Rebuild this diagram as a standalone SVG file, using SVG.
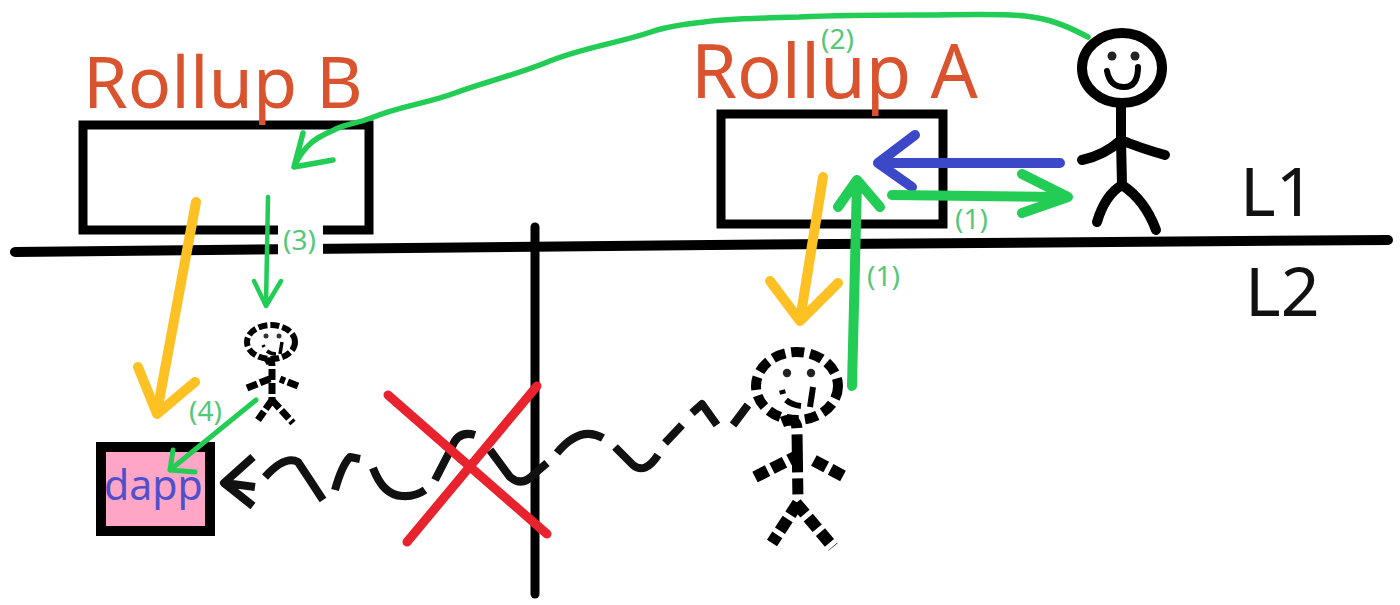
<svg xmlns="http://www.w3.org/2000/svg" width="1400" height="605" viewBox="0 0 1400 605">
<style>
.k{fill:none;stroke:#000;stroke-linecap:round;stroke-linejoin:round}
.g{fill:none;stroke:#22cc55;stroke-linecap:round;stroke-linejoin:round}
.y{fill:none;stroke:#fdc124;stroke-width:10;stroke-linecap:round;stroke-linejoin:round}
.t{font-family:"Noto Sans","Open Sans",sans-serif}
.title{font-size:74px;fill:#d9532f}
.lbl{font-size:28px;fill:#55c878}
.lvl{font-size:68px;fill:#111}
.wave{fill:none;stroke:#111;stroke-width:8;stroke-linecap:butt;stroke-linejoin:round}
</style>
<rect width="1400" height="605" fill="#fff"/>
<g id="lines">
<path class="k" stroke-width="10" d="M15 252L710 245L1388 240"/>
<path class="k" stroke-width="9" d="M535 227L535 594"/>
</g>
<g id="rollup-b">
<rect x="83" y="125" width="286" height="105" fill="none" stroke="#000" stroke-width="9"/>
<rect x="278" y="222" width="45" height="36" fill="#fff"/>
<text class="t title" x="83" y="108" style="font-size:72px">Rollup B</text>
</g>
<g id="rollup-a">
<rect x="721" y="114" width="222" height="110" fill="none" stroke="#000" stroke-width="9"/>
<text class="t title" x="691" y="98">Rollup A</text>
</g>
<g id="levels">
<text class="t lvl" x="1240" y="216">L1</text>
<text class="t lvl" x="1245" y="316">L2</text>
</g>
<g id="dapp">
<rect x="101" y="447" width="109" height="84" fill="#ffa6c6" stroke="#000" stroke-width="10"/>
<text class="t" x="104" y="500" font-size="41" fill="#5050cc">dapp</text>
</g>
<g id="user-l1">
<ellipse cx="1122" cy="68" rx="40" ry="35" fill="none" stroke="#000" stroke-width="10"/>
<circle cx="1112" cy="56" r="4.5" fill="#222"/><circle cx="1135" cy="56" r="4.5" fill="#222"/>
<path class="k" stroke-width="6" d="M1107 71Q1110 87 1124 87Q1138 87 1138 67"/>
<path class="k" stroke-width="10" d="M1121 106L1121 140L1122 185M1082 160Q1105 155 1121 140Q1140 148 1165 155M1122 185Q1105 195 1097 222M1122 185Q1145 200 1156 230"/>
</g>
<g id="user-l2-a">
<ellipse cx="797" cy="386" rx="41" ry="34" fill="none" stroke="#000" stroke-width="10" stroke-dasharray="13 6"/>
<circle cx="787" cy="373" r="4.2" fill="#222"/><circle cx="811" cy="373" r="4.2" fill="#222"/>
<path fill="none" stroke="#000" stroke-width="6" d="M782 390L783 394M786 400Q792 405 801 406M813 387L810 407"/>
<path fill="none" stroke="#000" stroke-width="11" stroke-dasharray="20 6 38 6 16" d="M782 422Q797 416 797 430L798 503"/>
<path fill="none" stroke="#000" stroke-width="12" stroke-dasharray="14 5 14 5" d="M755 477L795 457M843 476L813 460M798 503L772 543M796 503L833 547"/>
</g>
<g id="user-l2-b">
<ellipse cx="271" cy="342" rx="24" ry="17" fill="none" stroke="#000" stroke-width="6" stroke-dasharray="9 3"/>
<circle cx="266" cy="336" r="2.5" fill="#333"/><circle cx="279" cy="336" r="2.5" fill="#333"/>
<path fill="none" stroke="#000" stroke-width="3.5" d="M263 345L264 347M267 351Q271 354 276 354M282 342L280 354"/>
<path fill="none" stroke="#000" stroke-width="7" stroke-dasharray="11 3" d="M265 362Q272 358 272 366L272 400M247 388L272 378M298 386L280 379M272 400L258 420M272 400L293 423"/>
</g>
<g id="connectors">
<path class="g" stroke-width="5.5" d="M1088 37C1060 22 1040 16 1011 15C980 14 950 15 926 15C880 15 840 15 799 17C760 18 725 19 704 22C685 24 668 26 651 32C615 44 580 48 545 63C515 75 485 82 455 93C425 104 400 106 371 118C355 124 345 124 334 130C320 136 313 140 307 147C300 154 297 160 294 167M303 133L294 167L333 160"/>
<path class="y" d="M196 202L157 412M138 367L157 414L195 382"/>
<path class="y" d="M823 177L800 320M770 281L800 321L838 283"/>
<path class="g" stroke-width="10" d="M852 386L857 182M838 207L857 180L880 207"/>
<path fill="none" stroke="#3b48c8" stroke-width="10" stroke-linecap="round" stroke-linejoin="round" d="M1060 163L878 163M915 135L878 163L912 187"/>
<path class="g" stroke-width="10" d="M892 195L1066 197M1022 174L1068 197L1022 213"/>
<path class="g" stroke-width="4.5" d="M268 197L266 305M254 281L266 306L281 281"/>
<path class="g" stroke-width="5" d="M256 400L170 470M173 450L170 470L195 472"/>
<path class="wave" stroke-width="9" d="M255 487L225 483M253 457L224 483L253 506"/>
<path class="wave" d="M265 477Q285 455 298 462Q310 480 323 500M335 490Q342 465 350 457L360 459M373 468Q383 495 402 496Q415 497 425 490M435 480L452 447Q458 430 475 435M490 450L510 477Q522 487 533 475L547 463M557 453Q580 425 603 438M615 447L633 465Q645 475 658 455M665 443L682 425M692 413L702 404L717 425M733 425L748 405"/>
<path fill="none" stroke="#e8232e" stroke-width="9" stroke-linecap="round" d="M388 395L547 534M407 542L537 386"/>
</g>
<g id="labels">
<text class="t lbl" x="821" y="49">(2)</text>
<text class="t lbl" x="955" y="229">(1)</text>
<text class="t lbl" x="867" y="286">(1)</text>
<text class="t lbl" x="283" y="250">(3)</text>
<text class="t lbl" x="189" y="421">(4)</text>
</g>
</svg>
